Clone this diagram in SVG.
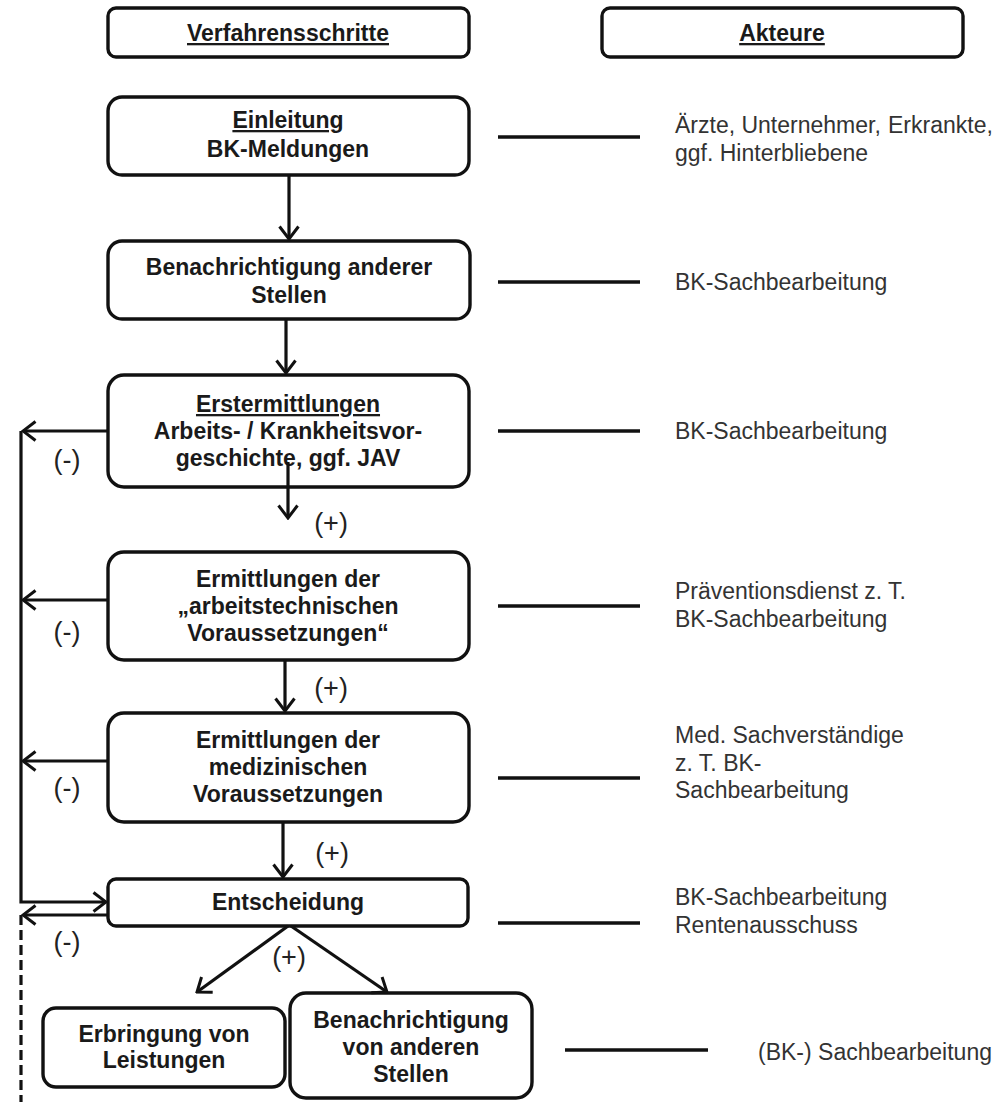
<svg xmlns="http://www.w3.org/2000/svg" width="996" height="1102" viewBox="0 0 996 1102">
<defs>
<marker id="arr" viewBox="0 0 16 22" refX="14" refY="11" markerWidth="16" markerHeight="22" markerUnits="userSpaceOnUse" orient="auto">
<path d="M1.5,1.5 L14,11 L1.5,20.5" fill="none" stroke="#111" stroke-width="3"/>
</marker>
</defs>
<style>
.box{fill:#fff;stroke:#111;stroke-width:3.4}
.t{font-family:"Liberation Sans",Arial,sans-serif;font-size:23px;font-weight:bold;fill:#1a1a1a;text-anchor:middle}
.u{text-decoration:underline}
.a{font-family:"Liberation Sans",Arial,sans-serif;font-size:23px;fill:#333}
.lbl{font-family:"Liberation Sans",Arial,sans-serif;font-size:27px;fill:#222;text-anchor:middle}
.c{fill:none;stroke:#111;stroke-width:3.2}
.ln{stroke:#111;stroke-width:3.6}
</style>
<rect width="996" height="1102" fill="#fff"/>

<g id="hdr-verfahren">
<rect class="box" x="108" y="8" width="361" height="49" rx="8"/>
<text class="t u" x="288" y="41">Verfahrensschritte</text>
</g>
<g id="hdr-akteure">
<rect class="box" x="602" y="8" width="361" height="49" rx="8"/>
<text class="t u" x="782" y="41">Akteure</text>
</g>

<g id="n-einleitung">
<rect class="box" x="108" y="97" width="361" height="78" rx="14"/>
<text class="t u" x="288" y="128">Einleitung</text>
<text class="t" x="288" y="157">BK-Meldungen</text>
</g>
<g id="n-benachrichtigung">
<rect class="box" x="108" y="241" width="362" height="78" rx="14"/>
<text class="t" x="289" y="275">Benachrichtigung anderer</text>
<text class="t" x="289" y="303">Stellen</text>
</g>
<g id="n-erstermittlungen">
<rect class="box" x="108" y="375" width="361" height="112" rx="16"/>
<text class="t u" x="288" y="412">Erstermittlungen</text>
<text class="t" x="288" y="439">Arbeits- / Krankheitsvor-</text>
<text class="t" x="288" y="466">geschichte, ggf. JAV</text>
</g>
<g id="n-arbeitstechnisch">
<rect class="box" x="108" y="552" width="361" height="108" rx="16"/>
<text class="t" x="288" y="587">Ermittlungen der</text>
<text class="t" x="288" y="614">„arbeitstechnischen</text>
<text class="t" x="288" y="641">Voraussetzungen“</text>
</g>
<g id="n-medizinisch">
<rect class="box" x="108" y="713" width="361" height="109" rx="16"/>
<text class="t" x="288" y="748">Ermittlungen der</text>
<text class="t" x="288" y="775">medizinischen</text>
<text class="t" x="288" y="802">Voraussetzungen</text>
</g>
<g id="n-entscheidung">
<rect class="box" x="108" y="879" width="360" height="47" rx="8"/>
<text class="t" x="288" y="910">Entscheidung</text>
</g>
<g id="n-erbringung">
<rect class="box" x="43" y="1008" width="242" height="79" rx="13"/>
<text class="t" x="164" y="1042">Erbringung von</text>
<text class="t" x="164" y="1068">Leistungen</text>
</g>
<g id="n-benachrichtigung2">
<rect class="box" x="290" y="993" width="242" height="105" rx="16"/>
<text class="t" x="411" y="1028">Benachrichtigung</text>
<text class="t" x="411" y="1055">von anderen</text>
<text class="t" x="411" y="1082">Stellen</text>
</g>

<g id="akteure">
<text class="a" x="675" y="133">Ärzte, Unternehmer,</text>
<text class="a" x="888" y="133">Erkrankte,</text>
<text class="a" x="675" y="161">ggf. Hinterbliebene</text>
<text class="a" x="675" y="290">BK-Sachbearbeitung</text>
<text class="a" x="675" y="439">BK-Sachbearbeitung</text>
<text class="a" x="675" y="599">Präventionsdienst z. T.</text>
<text class="a" x="675" y="627">BK-Sachbearbeitung</text>
<text class="a" x="675" y="743">Med. Sachverständige</text>
<text class="a" x="675" y="771">z. T. BK-</text>
<text class="a" x="675" y="798">Sachbearbeitung</text>
<text class="a" x="675" y="905">BK-Sachbearbeitung</text>
<text class="a" x="675" y="933">Rentenausschuss</text>
<text class="a" x="758" y="1060">(BK-) Sachbearbeitung</text>
</g>

<g id="connectors">
<line class="ln" x1="498" y1="137" x2="640" y2="137"/>
<line class="ln" x1="498" y1="282" x2="640" y2="282"/>
<line class="ln" x1="498" y1="431" x2="640" y2="431"/>
<line class="ln" x1="498" y1="606" x2="640" y2="606"/>
<line class="ln" x1="498" y1="778" x2="640" y2="778"/>
<line class="ln" x1="498" y1="923" x2="640" y2="923"/>
<line class="ln" x1="565" y1="1050" x2="708" y2="1050"/>

<path class="c" d="M289,175 V239" marker-end="url(#arr)"/>
<path class="c" d="M286,319 V373" marker-end="url(#arr)"/>
<path class="c" d="M288,462 V518" marker-end="url(#arr)"/>
<path class="c" d="M285,660 V711" marker-end="url(#arr)"/>
<path class="c" d="M283,822 V877" marker-end="url(#arr)"/>
<path class="c" d="M288,926 L197,992" marker-end="url(#arr)"/>
<path class="c" d="M291,926 L387,992" marker-end="url(#arr)"/>

<path class="c" d="M108,431 H23" marker-end="url(#arr)"/>
<path class="c" d="M108,600 H23" marker-end="url(#arr)"/>
<path class="c" d="M108,761 H23" marker-end="url(#arr)"/>
<path class="c" d="M21,431 V902 H106" marker-end="url(#arr)"/>
<path class="c" d="M108,915 H23" marker-end="url(#arr)"/>
<path class="c" d="M21,915 V1102" stroke-dasharray="10,5"/>

<text class="lbl" x="67" y="469">(-)</text>
<text class="lbl" x="67" y="641">(-)</text>
<text class="lbl" x="67" y="797">(-)</text>
<text class="lbl" x="67" y="951">(-)</text>
<text class="lbl" x="331" y="532">(+)</text>
<text class="lbl" x="331" y="697">(+)</text>
<text class="lbl" x="332" y="862">(+)</text>
<text class="lbl" x="289" y="966">(+)</text>
</g>
</svg>
